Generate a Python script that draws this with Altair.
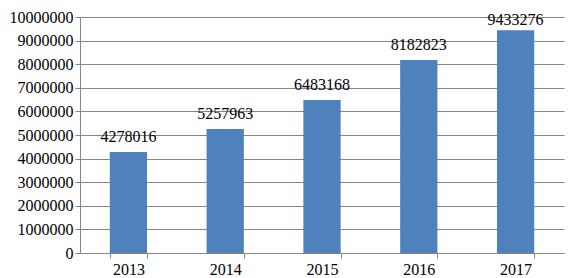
import altair as alt
import pandas as pd

years = ["2013", "2014", "2015", "2016", "2017"]
values = [4278016, 5257963, 6483168, 8182823, 9433276]
y_ticks = [0, 1000000, 2000000, 3000000, 4000000, 5000000, 6000000, 7000000, 8000000, 9000000, 10000000]

df = pd.DataFrame({"year": years, "value": values})

FONT = "Liberation Serif"
GRID = "#868686"

base = alt.Chart(df).encode(
    x=alt.X("year:N", title=None, sort=years,
            scale=alt.Scale(paddingInner=0.615, paddingOuter=0.3075),
            axis=alt.Axis(labelAngle=0, tickBand="extent", tickSize=5, tickColor=GRID,
                          domainColor=GRID, labelFont=FONT, labelFontSize=16,
                          labelColor="#000000", labelPadding=3, grid=False)),
    y=alt.Y("value:Q", title=None,
            scale=alt.Scale(domain=[0, 10000000], nice=False),
            axis=alt.Axis(values=y_ticks, format="d", tickSize=5, tickColor=GRID,
                          domainColor=GRID, gridColor=GRID, grid=True,
                          labelFont=FONT, labelFontSize=16, labelColor="#000000",
                          labelPadding=2)),
)

bars = base.mark_bar(color="#4F81BD")
labels = base.mark_text(baseline="alphabetic", dy=-10, font=FONT, fontSize=16, color="#000000").encode(
    text=alt.Text("value:Q", format="d")
).transform_filter(alt.datum.year != "2017")
label_top = base.mark_text(baseline="alphabetic", dy=-5, font=FONT, fontSize=16, color="#000000").encode(
    text=alt.Text("value:Q", format="d")
).transform_filter(alt.datum.year == "2017")

chart = (bars + labels + label_top).properties(
    width=484, height=236,
    autosize=alt.AutoSizeParams(type="none"),
    padding={"left": 72, "top": 9, "right": 1, "bottom": 25},
).configure_view(stroke=None).configure_axis(domainWidth=1, gridWidth=1)

chart.save("out.html", embed_options={"renderer": "svg", "actions": False})
